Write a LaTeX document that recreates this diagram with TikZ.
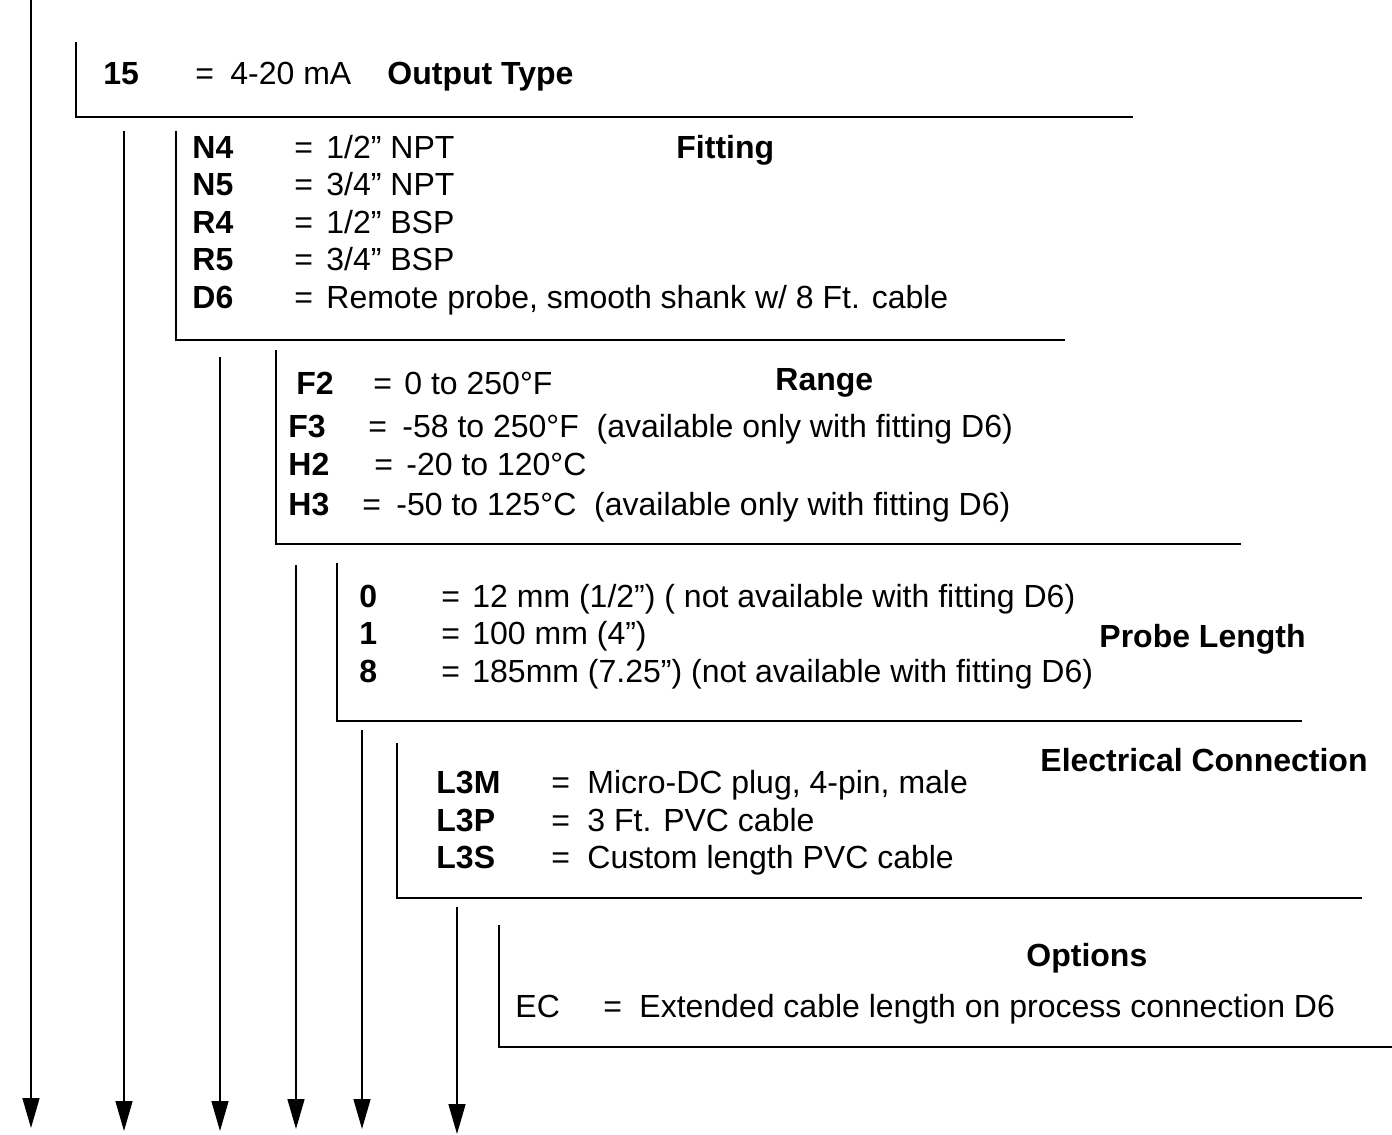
\documentclass[tikz,border=0pt]{standalone}
\usepackage{fontspec}
\setmainfont{Liberation Sans}
\usepackage{tikz}
\usetikzlibrary{arrows.meta,positioning}
\newcommand{\legendsize}{\fontsize{16pt}{19pt}\selectfont}

\begin{document}
\begin{tikzpicture}[
    x={(0.5pt,0)}, y={(0,-0.5pt)},
    code/.style={anchor=base west, inner sep=0pt, font=\legendsize\bfseries},
    txt/.style={anchor=base west, inner sep=0pt, font=\legendsize},
    head/.style={anchor=base west, inner sep=0pt, font=\legendsize\bfseries},
    brk/.style={line width=1.25pt, black},
    arr/.style={-{Triangle[length=15pt,width=8.5pt]}, line width=0.75pt, black},
]
\useasboundingbox (0,0) rectangle (1392,1135);

% Brackets
\draw[brk] (76,42) |- (1133,117);
\draw[brk] (176,131) |- (1065,340);
\draw[brk] (276,350) |- (1241,544);
\draw[brk] (337,563) |- (1302,721);
\draw[brk] (397,743) |- (1362,898);
\draw[brk] (499,925) |- (1392,1047);

% Output type
\node[code] (c15) at (103,84) {15};
\node[txt] (e15) at (195,84) {=};
\node[txt] (v15) at (230,84) {4-20 mA};
\node[head] (hout) at (387,84) {Output Type};

% Fitting
\node[head] (hfit) at (676,158) {Fitting};
\node[code] (cN4) at (192,158) {N4};
\node[txt] (eN4) at (294,158) {=};
\node[txt] (vN4) at (326,158) {1/2” NPT};
\node[code] (cN5) at (192,195) {N5};
\node[txt] (eN5) at (294,195) {=};
\node[txt] (vN5) at (326,195) {3/4” NPT};
\node[code] (cR4) at (192,233) {R4};
\node[txt] (eR4) at (294,233) {=};
\node[txt] (vR4) at (326,233) {1/2” BSP};
\node[code] (cR5) at (192,270) {R5};
\node[txt] (eR5) at (294,270) {=};
\node[txt] (vR5) at (326,270) {3/4” BSP};
\node[code] (cD6) at (192,308) {D6};
\node[txt] (eD6) at (294,308) {=};
\node[txt] (vD6) at (326,308) {Remote probe, smooth shank w/ 8 Ft. cable};

% Range
\node[head] (hrng) at (775,390) {Range};
\node[code] (cF2) at (296,394) {F2};
\node[txt] (eF2) at (373,394) {=};
\node[txt] (vF2) at (404,394) {0 to 250°F};
\node[code] (cF3) at (288,437) {F3};
\node[txt] (eF3) at (368,437) {=};
\node[txt] (vF3) at (402,437) {-58 to 250°F\ \ (available only with fitting D6)};
\node[code] (cH2) at (288,475) {H2};
\node[txt] (eH2) at (374,475) {=};
\node[txt] (vH2) at (406,475) {-20 to 120°C};
\node[code] (cH3) at (288,515) {H3};
\node[txt] (eH3) at (362,515) {=};
\node[txt] (vH3) at (396,515) {-50 to 125°C\ \ (available only with fitting D6)};

% Probe length
\node[head] (hlen) at (1099,647) {Probe Length};
\node[code] (c0) at (359,607) {0};
\node[txt] (e0) at (441,607) {=};
\node[txt] (v0) at (472,607) {12 mm (1/2”) ( not available with fitting D6)};
\node[code] (c1) at (359,644) {1};
\node[txt] (e1) at (441,644) {=};
\node[txt] (v1) at (472,644) {100 mm (4”)};
\node[code] (c8) at (359,682) {8};
\node[txt] (e8) at (441,682) {=};
\node[txt] (v8) at (472,682) {185mm (7.25”) (not available with fitting D6)};

% Electrical connection
\node[head] (helc) at (1040,771) {Electrical Connection};
\node[code] (cL3M) at (436,793) {L3M};
\node[txt] (eL3M) at (551,793) {=};
\node[txt] (vL3M) at (587,793) {Micro-DC plug, 4-pin, male};
\node[code] (cL3P) at (436,831) {L3P};
\node[txt] (eL3P) at (551,831) {=};
\node[txt] (vL3P) at (587,831) {3 Ft. PVC cable};
\node[code] (cL3S) at (436,868) {L3S};
\node[txt] (eL3S) at (551,868) {=};
\node[txt] (vL3S) at (587,868) {Custom length PVC cable};

% Options
\node[head] (hopt) at (1026,966) {Options};
\node[txt] (cEC) at (515,1017) {EC};
\node[txt] (eEC) at (603,1017) {=};
\node[txt] (vEC) at (639,1017) {Extended cable length on process connection D6};

% Arrows
\coordinate (a1s) at (31,0);    \coordinate (a1e) at (31,1128);
\coordinate (a2s) at (124,131); \coordinate (a2e) at (124,1131);
\coordinate (a3s) at (220,357); \coordinate (a3e) at (220,1131);
\coordinate (a4s) at (296,565); \coordinate (a4e) at (296,1129);
\coordinate (a5s) at (362,730); \coordinate (a5e) at (362,1129);
\coordinate (a6s) at (457,907); \coordinate (a6e) at (457,1134);
\foreach \i in {1,...,6}
  \draw[arr] (a\i s) -- (a\i e);
\end{tikzpicture}
\end{document}
